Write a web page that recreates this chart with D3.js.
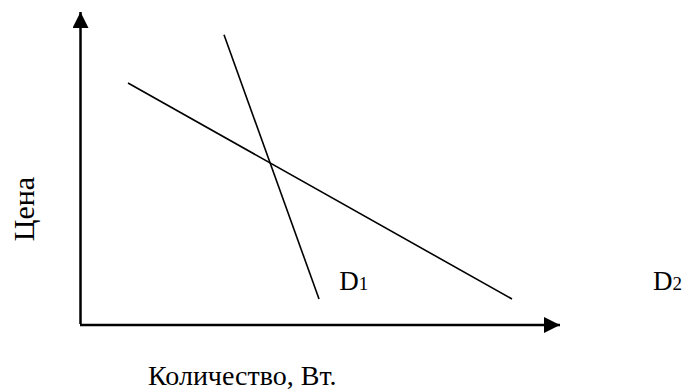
<!DOCTYPE html>
<html>
<head>
<meta charset="utf-8">
<script src="https://cdn.jsdelivr.net/npm/d3@7"></script>
<style>
  html, body { margin: 0; padding: 0; background: #fff; }
  svg { display: block; }
  text { fill: #000; }
</style>
</head>
<body>
<svg class="svg"></svg>
<script>
// demand curves, each as two end points (quantity, price) in 0..100 units
const curveNames = ['D1', 'D2'];
const d1Points = [[30, 92.7], [49.8, 8.3]];
const d2Points = [[10, 77.3], [90, 8.3]];
// label anchor points for each curve
const labelPoints = [[54, 11.2], [119.4, 11.2]];
const xTitle = 'Количество, Вт.';
const yTitle = 'Цена';

const width = 688;
const height = 392;
const serif = '"Liberation Serif", "Times New Roman", "DejaVu Serif", serif';

const svg = d3
  .select('.svg')
  .attr('width', width)
  .attr('height', height)
  .attr('font-family', serif);

const x = d3.scaleLinear().domain([0, 100]).range([80, 560]);
const y = d3.scaleLinear().domain([0, 100]).range([325, 12]);

const defs = svg.append('defs');
defs
  .append('marker')
  .attr('id', 'arrow')
  .attr('viewBox', '0 0 16 16')
  .attr('refX', 16)
  .attr('refY', 8)
  .attr('markerWidth', 16)
  .attr('markerHeight', 16)
  .attr('markerUnits', 'userSpaceOnUse')
  .attr('orient', 'auto')
  .append('path')
  .attr('d', 'M0,0 L16,8 L0,16 Z')
  .attr('fill', '#000');

// axes: plain lines with arrow heads
svg
  .append('line')
  .attr('x1', x(0) + 0.5)
  .attr('y1', y(0) - 1)
  .attr('x2', x(0) + 0.5)
  .attr('y2', y(100))
  .attr('stroke', '#000')
  .attr('stroke-width', 2.5)
  .attr('marker-end', 'url(#arrow)');

svg
  .append('line')
  .attr('x1', x(0))
  .attr('y1', y(0))
  .attr('x2', x(100))
  .attr('y2', y(0))
  .attr('stroke', '#000')
  .attr('stroke-width', 2.5)
  .attr('marker-end', 'url(#arrow)');

const line = d3
  .line()
  .x(d => x(d[0]))
  .y(d => y(d[1]));

svg
  .append('g')
  .selectAll('path')
  .data([d1Points, d2Points])
  .join('path')
  .attr('d', line)
  .attr('fill', 'none')
  .attr('stroke', '#000')
  .attr('stroke-width', 1.6);

const labels = svg
  .append('g')
  .selectAll('text')
  .data(curveNames)
  .join('text')
  .attr('x', (d, i) => x(labelPoints[i][0]))
  .attr('y', (d, i) => y(labelPoints[i][1]))
  .attr('font-family', serif)
  .attr('font-size', 27);

labels.append('tspan').text(d => d[0]);
labels
  .append('tspan')
  .attr('font-size', 19)
  .text(d => d.slice(1));

svg
  .append('text')
  .attr('x', 148)
  .attr('y', 385)
  .attr('font-family', serif)
  .attr('font-size', 28)
  .text(xTitle);

svg
  .append('text')
  .attr('transform', 'translate(34,209) rotate(-90)')
  .attr('text-anchor', 'middle')
  .attr('font-family', serif)
  .attr('font-size', 30)
  .text(yTitle);
</script>
</body>
</html>
